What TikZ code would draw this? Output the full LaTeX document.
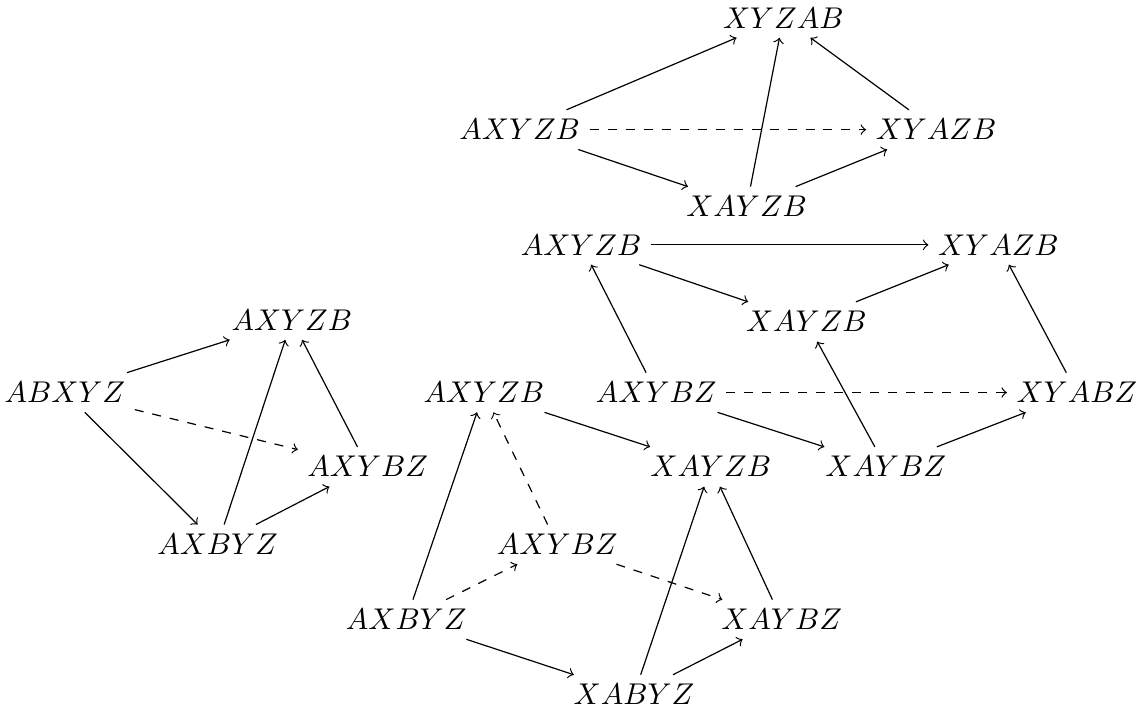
\documentclass[tikz,border=0pt]{standalone}
\usepackage{amsmath,amssymb}
\usepackage{tikz}

\begin{document}
\begin{tikzpicture}[x=1cm,y=1cm,>=to,
    perm/.style={inner sep=3pt},
    dsh/.style={->,dashed}]
  \useasboundingbox (0,0) rectangle (13.36,8.35);
  % top square
  \node[perm] (t1) at (9.18,8.14) {$XYZAB$};
  \node[perm] (t2) at (6.09,6.83) {$AXYZB$};
  \node[perm] (t3) at (10.97,6.83) {$XYAZB$};
  \node[perm] (t4) at (8.75,5.93) {$XAYZB$};
  \draw[->] (t2) -- (t1);
  \draw[->] (t4) -- (t1);
  \draw[->] (t3) -- (t1);
  \draw[dsh] (t2) -- (t3);
  \draw[->] (t2) -- (t4);
  \draw[->] (t4) -- (t3);
  % second cube
  \node[perm] (s1) at (6.81,5.48) {$AXYZB$};
  \node[perm] (s2) at (11.70,5.48) {$XYAZB$};
  \node[perm] (s3) at (9.45,4.58) {$XAYZB$};
  \node[perm] (s4) at (7.69,3.75) {$AXYBZ$};
  \node[perm] (s5) at (12.62,3.75) {$XYABZ$};
  \node[perm] (s6) at (10.38,2.88) {$XAYBZ$};
  \draw[->] (s1) -- (s2);
  \draw[->] (s1) -- (s3);
  \draw[->] (s3) -- (s2);
  \draw[->] (s4) -- (s1);
  \draw[->] (s6) -- (s3);
  \draw[->] (s5) -- (s2);
  \draw[dsh] (s4) -- (s5);
  \draw[->] (s4) -- (s6);
  \draw[->] (s6) -- (s5);
  % left square
  \node[perm] (l1) at (3.42,4.60) {$AXYZB$};
  \node[perm] (l2) at (0.76,3.75) {$ABXYZ$};
  \node[perm] (l3) at (4.31,2.88) {$AXYBZ$};
  \node[perm] (l4) at (2.55,1.97) {$AXBYZ$};
  \draw[->] (l2) -- (l1);
  \draw[dsh] (l2) -- (l3);
  \draw[->] (l2) -- (l4);
  \draw[->] (l4) -- (l1);
  \draw[->] (l3) -- (l1);
  \draw[->] (l4) -- (l3);
  % bottom cube
  \node[perm] (b1) at (5.67,3.75) {$AXYZB$};
  \node[perm] (b2) at (8.33,2.88) {$XAYZB$};
  \node[perm] (b3) at (6.53,1.97) {$AXYBZ$};
  \node[perm] (b4) at (4.76,1.09) {$AXBYZ$};
  \node[perm] (b5) at (9.16,1.09) {$XAYBZ$};
  \node[perm] (b6) at (7.43,0.21) {$XABYZ$};
  \draw[->] (b1) -- (b2);
  \draw[dsh] (b3) -- (b1);
  \draw[->] (b4) -- (b1);
  \draw[dsh] (b4) -- (b3);
  \draw[dsh] (b3) -- (b5);
  \draw[->] (b4) -- (b6);
  \draw[->] (b6) -- (b2);
  \draw[->] (b6) -- (b5);
  \draw[->] (b5) -- (b2);
\end{tikzpicture}
\end{document}
